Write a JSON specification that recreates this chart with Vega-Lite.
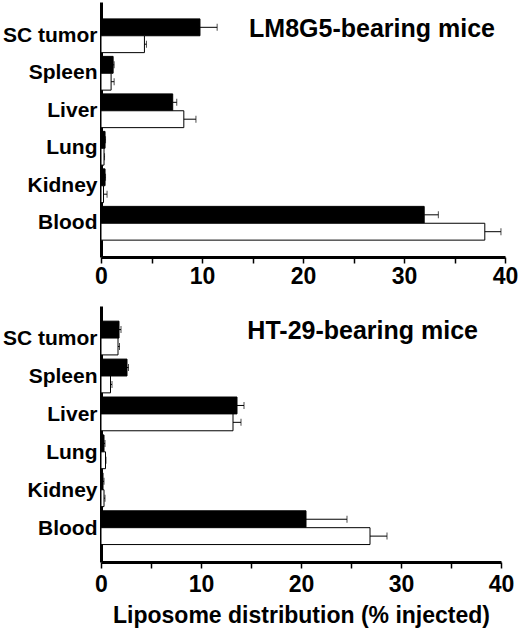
{
  "$schema": "https://vega.github.io/schema/vega-lite/v6.json",
  "background": "white",
  "padding": {"left": 2, "top": 2, "right": 0, "bottom": 5},
  "spacing": 18,
  "config": {
    "font": "Liberation Sans",
    "view": {"stroke": null},
    "axis": {
      "domainColor": "black",
      "domainWidth": 3,
      "tickColor": "black",
      "labelColor": "black",
      "titleColor": "black",
      "labelFont": "Liberation Sans",
      "titleFont": "Liberation Sans",
      "labelFontWeight": "bold",
      "titleFontWeight": "bold",
      "grid": false
    },
    "title": {"font": "Liberation Sans", "fontWeight": "bold", "fontSize": 25, "color": "black", "anchor": "end", "frame": "group", "baseline": "alphabetic"}
  },
  "datasets": {
    "lm8g5": [
      {"organ": "SC tumor", "group": "solid", "value": 9.8, "upper": 11.5},
      {"organ": "SC tumor", "group": "open", "value": 4.3, "upper": 4.5},
      {"organ": "Spleen", "group": "solid", "value": 1.2, "upper": 1.3},
      {"organ": "Spleen", "group": "open", "value": 1.0, "upper": 1.3},
      {"organ": "Liver", "group": "solid", "value": 7.1, "upper": 7.5},
      {"organ": "Liver", "group": "open", "value": 8.2, "upper": 9.4},
      {"organ": "Lung", "group": "solid", "value": 0.4, "upper": 0.45},
      {"organ": "Lung", "group": "open", "value": 0.3, "upper": 0.35},
      {"organ": "Kidney", "group": "solid", "value": 0.4, "upper": 0.45},
      {"organ": "Kidney", "group": "open", "value": 0.25, "upper": 0.6},
      {"organ": "Blood", "group": "solid", "value": 32.0, "upper": 33.4},
      {"organ": "Blood", "group": "open", "value": 38.0, "upper": 39.6}
    ],
    "ht29": [
      {"organ": "SC tumor", "group": "solid", "value": 1.8, "upper": 2.0},
      {"organ": "SC tumor", "group": "open", "value": 1.7, "upper": 1.85},
      {"organ": "Spleen", "group": "solid", "value": 2.6, "upper": 2.75},
      {"organ": "Spleen", "group": "open", "value": 0.95, "upper": 1.1},
      {"organ": "Liver", "group": "solid", "value": 13.6, "upper": 14.3},
      {"organ": "Liver", "group": "open", "value": 13.2, "upper": 14.0},
      {"organ": "Lung", "group": "solid", "value": 0.3, "upper": 0.4},
      {"organ": "Lung", "group": "open", "value": 0.45, "upper": 0.5},
      {"organ": "Kidney", "group": "solid", "value": 0.2, "upper": 0.3},
      {"organ": "Kidney", "group": "open", "value": 0.3, "upper": 0.4},
      {"organ": "Blood", "group": "solid", "value": 20.5, "upper": 24.6},
      {"organ": "Blood", "group": "open", "value": 26.9, "upper": 28.6}
    ]
  },
  "vconcat": [
    {
      "width": 404,
      "height": 255,
      "data": {"name": "lm8g5"},
      "title": {"text": "LM8G5-bearing mice", "offset": -40, "dx": -10},
      "encoding": {
        "y": {
          "field": "organ", "type": "nominal",
          "scale": {"domain": ["SC tumor", "Spleen", "Liver", "Lung", "Kidney", "Blood"], "paddingInner": 0.1, "paddingOuter": 0.45},
          "axis": {"title": null, "ticks": false, "labelFontSize": 21, "labelPadding": 4}
        },
        "yOffset": {"field": "group", "type": "nominal", "scale": {"domain": ["solid", "open"], "paddingInner": 0}}
      },
      "layer": [
        {
          "mark": {"type": "bar", "stroke": "black", "strokeWidth": 1},
          "encoding": {
            "x": {
              "field": "value", "type": "quantitative",
              "scale": {"domain": [0, 40]},
              "axis": {
                "title": null,
                "values": [0, 2.5, 5, 7.5, 10, 12.5, 15, 17.5, 20, 22.5, 25, 27.5, 30, 32.5, 35, 37.5, 40],
                "labelExpr": "datum.value % 10 === 0 ? datum.label : ''",
                "labelOverlap": false, "labelFlush": false,
                "labelFontSize": 23, "labelPadding": 2,
                "tickWidth": 1.5,
                "tickSize": {"condition": {"test": "datum.value % 5 === 0", "value": 6}, "value": 3}
              }
            },
            "color": {"field": "group", "type": "nominal", "scale": {"domain": ["solid", "open"], "range": ["black", "white"]}, "legend": null}
          }
        },
        {
          "mark": {"type": "rule", "color": "black", "strokeWidth": 1},
          "encoding": {"x": {"field": "value", "type": "quantitative"}, "x2": {"field": "upper"}}
        },
        {
          "mark": {"type": "tick", "color": "black", "thickness": 1, "size": 7},
          "encoding": {"x": {"field": "upper", "type": "quantitative"}}
        }
      ]
    },
    {
      "width": 400,
      "height": 256,
      "data": {"name": "ht29"},
      "title": {"text": "HT-29-bearing mice", "offset": -38, "dx": -23},
      "encoding": {
        "y": {
          "field": "organ", "type": "nominal",
          "scale": {"domain": ["SC tumor", "Spleen", "Liver", "Lung", "Kidney", "Blood"], "paddingInner": 0.05, "paddingOuter": 0.4},
          "axis": {"title": null, "ticks": false, "labelFontSize": 21, "labelPadding": 4}
        },
        "yOffset": {"field": "group", "type": "nominal", "scale": {"domain": ["solid", "open"], "paddingInner": 0}}
      },
      "layer": [
        {
          "mark": {"type": "bar", "stroke": "black", "strokeWidth": 1},
          "encoding": {
            "x": {
              "field": "value", "type": "quantitative",
              "scale": {"domain": [0, 40]},
              "axis": {
                "title": "Liposome distribution (% injected)",
                "titleFontSize": 23, "titlePadding": 8,
                "values": [0, 2.5, 5, 7.5, 10, 12.5, 15, 17.5, 20, 22.5, 25, 27.5, 30, 32.5, 35, 37.5, 40],
                "labelExpr": "datum.value % 10 === 0 ? datum.label : ''",
                "labelOverlap": false, "labelFlush": false,
                "labelFontSize": 23, "labelPadding": 5,
                "tickWidth": 1.5,
                "tickSize": {"condition": {"test": "datum.value % 5 === 0", "value": 6}, "value": 3}
              }
            },
            "color": {"field": "group", "type": "nominal", "scale": {"domain": ["solid", "open"], "range": ["black", "white"]}, "legend": null}
          }
        },
        {
          "mark": {"type": "rule", "color": "black", "strokeWidth": 1},
          "encoding": {"x": {"field": "value", "type": "quantitative"}, "x2": {"field": "upper"}}
        },
        {
          "mark": {"type": "tick", "color": "black", "thickness": 1, "size": 7},
          "encoding": {"x": {"field": "upper", "type": "quantitative"}}
        }
      ]
    }
  ]
}
